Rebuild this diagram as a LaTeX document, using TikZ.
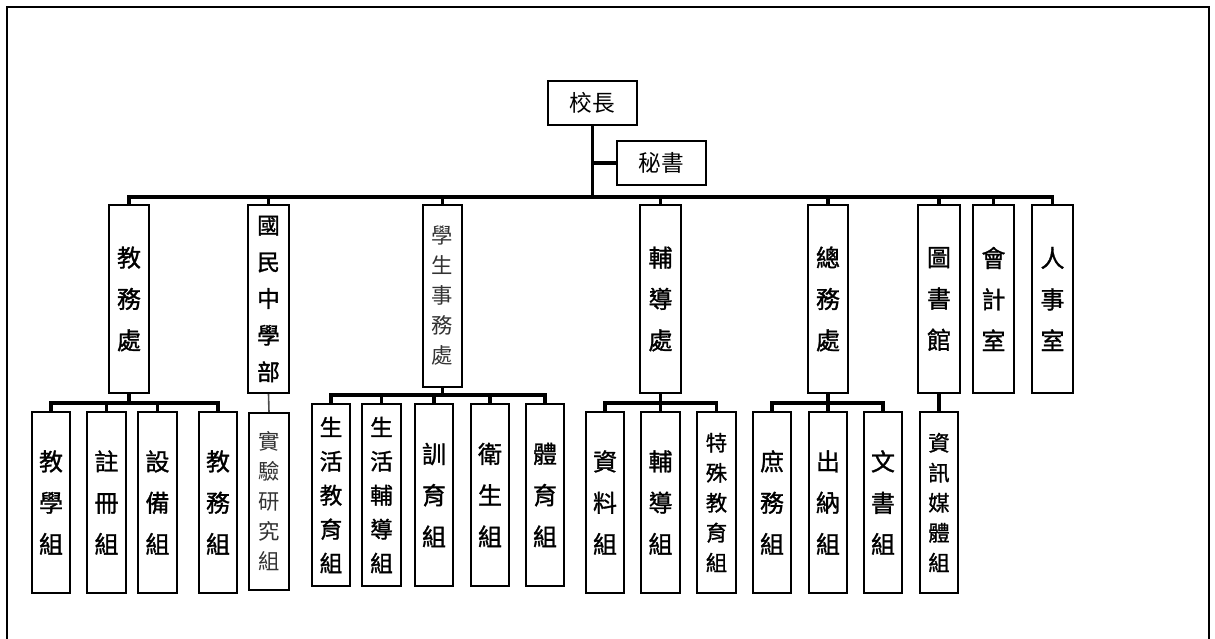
\documentclass[tikz,border=0pt]{standalone}
\usepackage{fontspec}
\newfontfamily\cjk{Noto Sans CJK TC}
\newfontfamily\cjkb[FakeBold=1.2]{Noto Sans CJK TC}
\tikzset{
  box/.style={draw=black, line width=1.5pt, fill=white, rectangle, inner sep=0pt, align=center, text=black},
  big/.style={font=\cjkb\fontsize{18}{31}\selectfont},
  mid/.style={font=\cjkb\fontsize{17}{27.5}\selectfont},
  med/.style={font=\cjkb\fontsize{17}{25.5}\selectfont},
  sml/.style={font=\cjkb\fontsize{16}{22.5}\selectfont},
  lsml/.style={font=\cjk\fontsize{16}{22.5}\selectfont, text=black!80},
  head/.style={font=\cjk\fontsize{17}{20}\selectfont},
  bus/.style={draw=black, line width=2.3pt},
  thin/.style={draw=black!70, line width=1.2pt},
  frame/.style={draw=black, line width=2pt}
}
% \bx{name}{x1}{y1}{x2}{y2}{style}{text}
\newcommand\bx[7]{\node[box,#6,minimum width={(#4-#2)*0.75pt},minimum height={(#5-#3)*0.75pt}] (#1) at ({(#2+#4)/2},{(#3+#5)/2}) {#7};}
\begin{document}
\begin{tikzpicture}[x=0.75pt,y=-0.75pt]
\useasboundingbox (0,0) rectangle (1215,639);
\draw[frame] (7,645) -- (7,7) -- (1209,7) -- (1209,645);

% top
\bx{xz}{548}{81}{637}{125}{head}{校長}
\bx{ms}{617}{141}{706}{185}{head}{秘書}

% level 1
\bx{jw}{109}{205}{149}{393}{big}{教\\務\\處}
\bx{gm}{248}{205}{289}{393}{mid}{國\\民\\中\\學\\部}
\bx{xs}{423}{205}{462}{387}{lsml}{學\\生\\事\\務\\處}
\bx{fd}{640}{205}{681}{393}{big}{輔\\導\\處}
\bx{zw}{808}{205}{848}{393}{big}{總\\務\\處}
\bx{ts}{918}{205}{960}{393}{big}{圖\\書\\館}
\bx{kj}{973}{205}{1014}{393}{big}{會\\計\\室}
\bx{rs}{1032}{205}{1073}{393}{big}{人\\事\\室}

% level 2
\bx{a1}{32}{412}{70}{593}{big}{教\\學\\組}
\bx{a2}{87}{412}{126}{593}{big}{註\\冊\\組}
\bx{a3}{138}{412}{177}{593}{big}{設\\備\\組}
\bx{a4}{199}{412}{237}{593}{big}{教\\務\\組}
\bx{b1}{249}{413}{289}{590}{lsml}{實\\驗\\研\\究\\組}
\bx{c1}{312}{404}{350}{586}{med}{生\\活\\教\\育\\組}
\bx{c2}{362}{404}{401}{586}{med}{生\\活\\輔\\導\\組}
\bx{c3}{415}{404}{453}{586}{big}{訓\\育\\組}
\bx{c4}{471}{404}{509}{586}{big}{衛\\生\\組}
\bx{c5}{526}{404}{564}{586}{big}{體\\育\\組}
\bx{d1}{586}{412}{624}{593}{big}{資\\料\\組}
\bx{d2}{641}{412}{680}{593}{big}{輔\\導\\組}
\bx{d3}{697}{412}{736}{593}{sml}{特\\殊\\教\\育\\組}
\bx{e1}{753}{412}{791}{593}{big}{庶\\務\\組}
\bx{e2}{809}{412}{847}{593}{big}{出\\納\\組}
\bx{e3}{864}{412}{902}{593}{big}{文\\書\\組}
\bx{f1}{920}{412}{958}{593}{sml}{資\\訊\\媒\\體\\組}

% main bus
\coordinate (b0) at (592.5,197);
\draw[bus] (xz.south) -- (b0);
\draw[bus] (b0 |- ms.west) -- (ms.west);
\draw[bus] (jw.north) |- (b0) -| (rs.north);
\foreach \n in {gm,xs,fd,zw,ts,kj} \draw[bus] (\n.north) -- (\n.north |- b0);

% 教務處
\coordinate (bj) at (129,403);
\draw[bus] (jw.south) -- (bj);
\draw[bus] (a1.north) |- (bj) -| (a4.north);
\foreach \n in {a2,a3} \draw[bus] (\n.north) -- (\n.north |- bj);

% 國民中學部
\draw[thin] (gm.south) -- (b1.north);

% 學生事務處
\coordinate (bx) at (442.5,395);
\draw[bus] (xs.south) -- (bx);
\draw[bus] (c1.north) |- (bx) -| (c5.north);
\foreach \n in {c2,c3,c4} \draw[bus] (\n.north) -- (\n.north |- bx);

% 輔導處
\coordinate (bf) at (660.5,403);
\draw[bus] (fd.south) -- (bf);
\draw[bus] (d1.north) |- (bf) -| (d3.north);
\draw[bus] (d2.north) -- (d2.north |- bf);

% 總務處
\coordinate (bz) at (828,403);
\draw[bus] (zw.south) -- (bz);
\draw[bus] (e1.north) |- (bz) -| (e3.north);
\draw[bus] (e2.north) -- (e2.north |- bz);

% 圖書館
\draw[bus] (ts.south) -- (f1.north);
\end{tikzpicture}
\end{document}
